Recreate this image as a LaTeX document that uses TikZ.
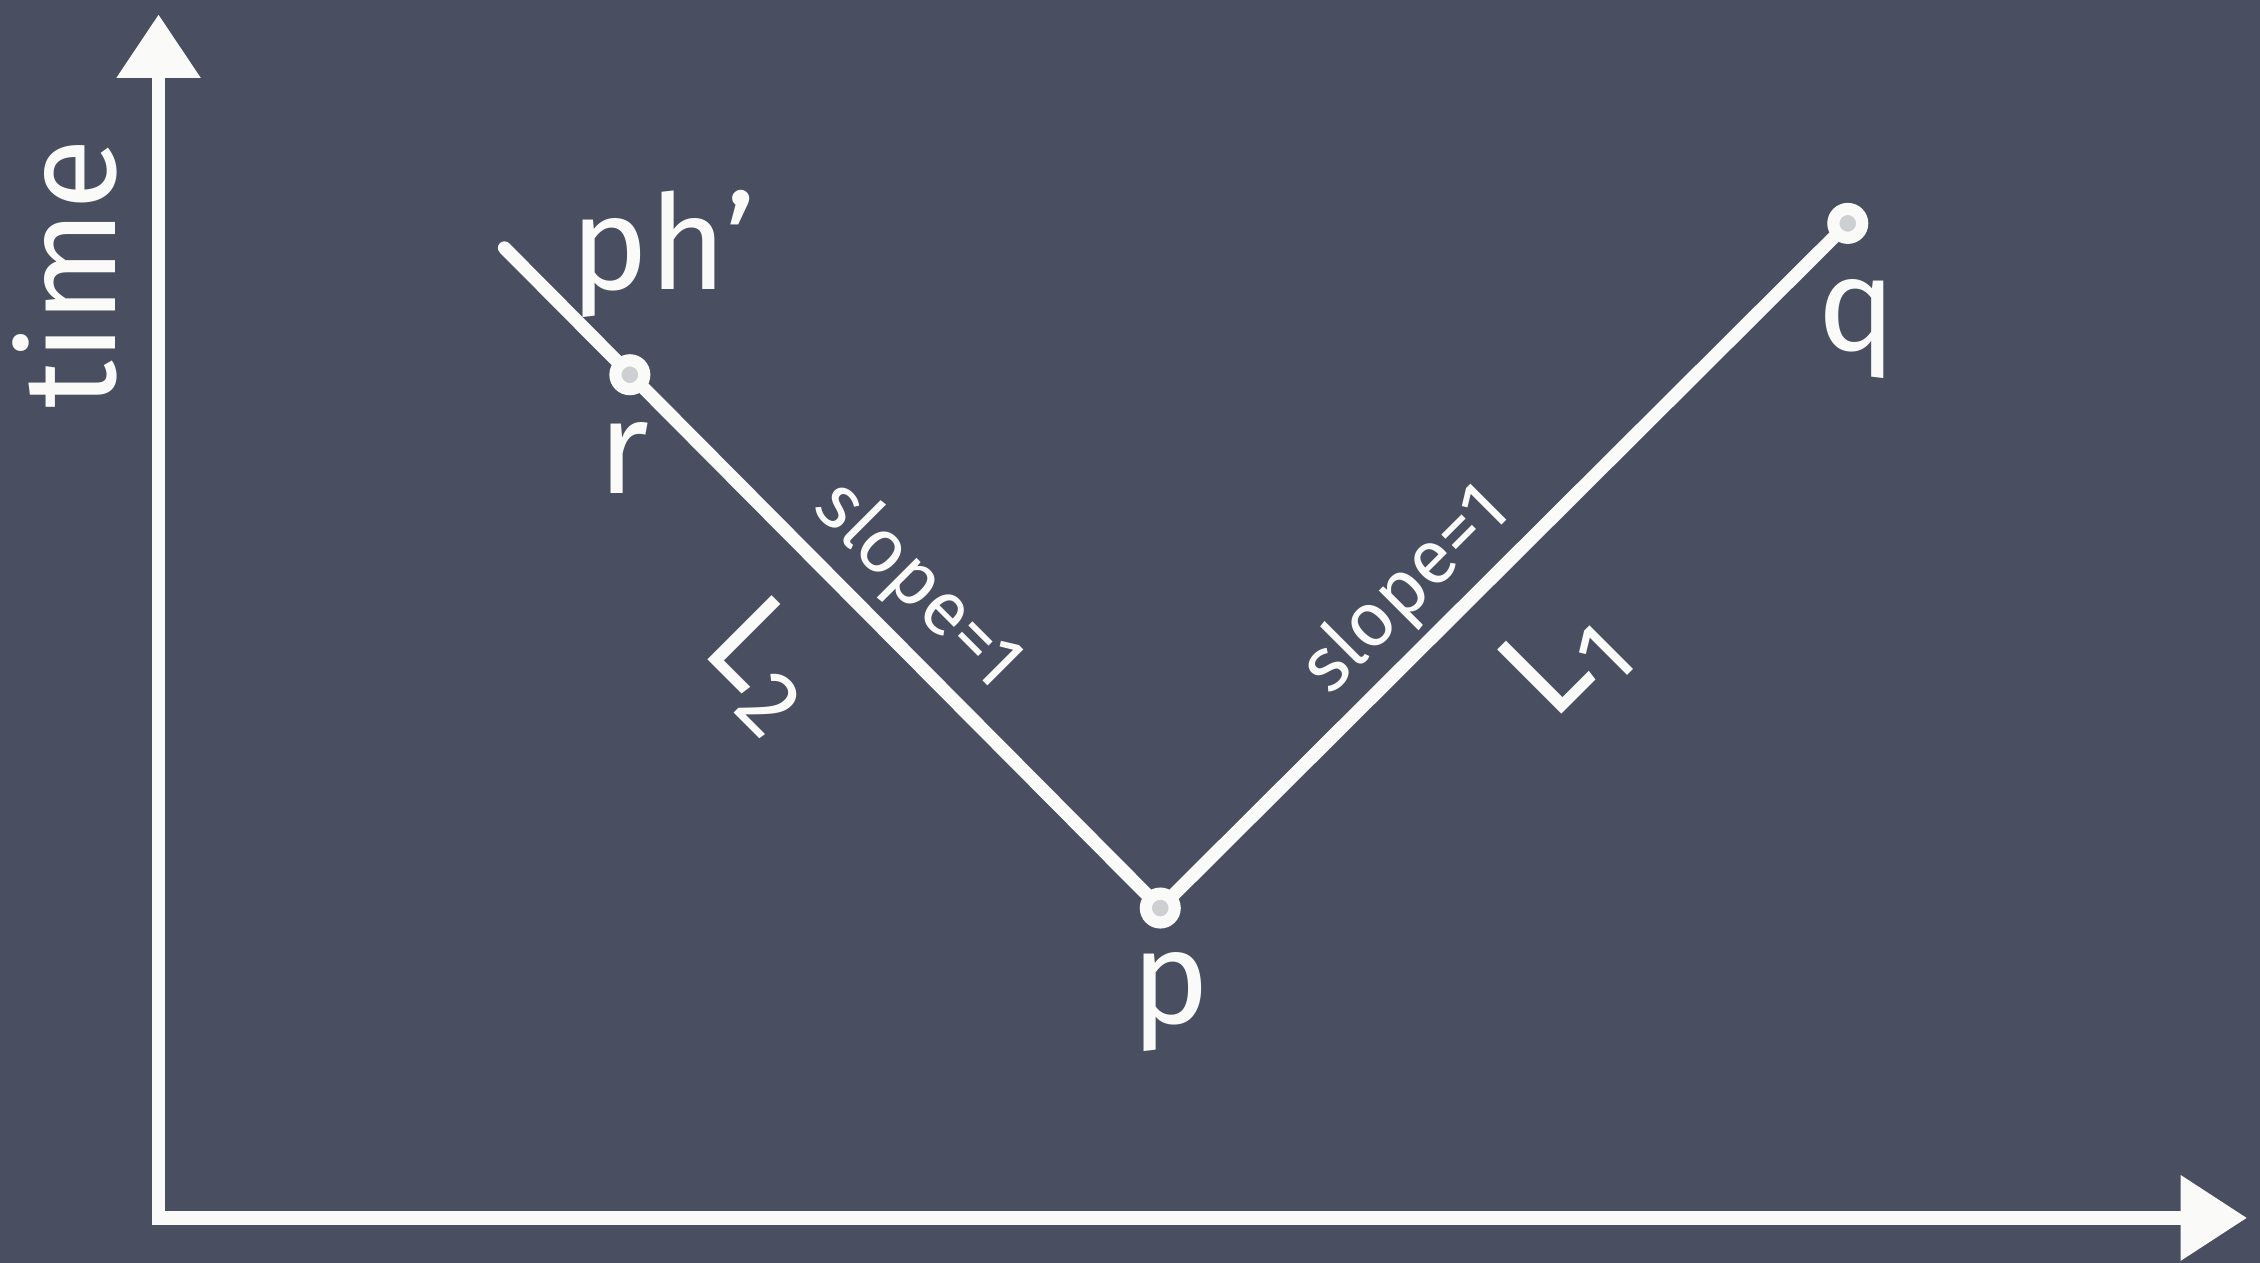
\documentclass[tikz,border=0pt]{standalone}
\usepackage{fontspec}
\setmainfont{Fira Sans}
\usetikzlibrary{arrows.meta}
\definecolor{board}{RGB}{73,79,96}
\definecolor{chalk}{RGB}{250,250,248}
\tikzset{
	chalkline/.style = {chalk, line width=2.6pt, line cap=round},
	dot/.style = {circle, draw=chalk, fill=chalk!75!board, line width=2.4pt, minimum size=0.2cm, inner sep=0pt},
	lbl/.style = {text=chalk, font=\fontsize{26}{30}\selectfont, inner sep=0pt},
	slopelbl/.style = {text=chalk, font=\fontsize{15}{18}\selectfont, inner sep=0pt}
}
\begin{document}
\begin{tikzpicture}[x = 0.01cm, y = -0.01cm]
		\fill [board] (0,0) rectangle (1568,876);
		\useasboundingbox (0,0) rectangle (1568,876);
		\coordinate (ytip) at (110,10);
		\coordinate (xtip) at (1559,845);
		\draw [chalkline, {Triangle[length=4.4mm, width=5.6mm]}-{Triangle[length=4.6mm, width=5.7mm]}] (ytip) |- (xtip);
		\node [lbl, rotate=90] (time) at (45,190) {time};
		\coordinate (top) at (350,172);
		\node [dot] (p) at (805,630) {};
		\node [dot] (q) at (1282,155) {};
		\draw [chalkline] (top) -- (p);
		\draw [chalkline] (p) -- (q);
		\node [dot] (r) at (437,260) {};
		\node [lbl] (phlbl) at (460,176) {ph'};
		\node [lbl] (rlbl) at (433,318) {r};
		\node [lbl] (plbl) at (812,695) {p};
		\node [lbl] (qlbl) at (1288,228) {q};
		\node [slopelbl, rotate=-45] (slope2) at (636,407) {slope=1};
		\node [slopelbl, rotate=45] (slope1) at (976,410) {slope=1};
		\node [lbl, rotate=-45] (l2) at (530,462) {L\textsubscript{2}};
		\node [lbl, rotate=45] (l1) at (1086,458) {L\textsubscript{1}};
		%\draw (605,420) -- (615,400);
	\end{tikzpicture}
\end{document}
